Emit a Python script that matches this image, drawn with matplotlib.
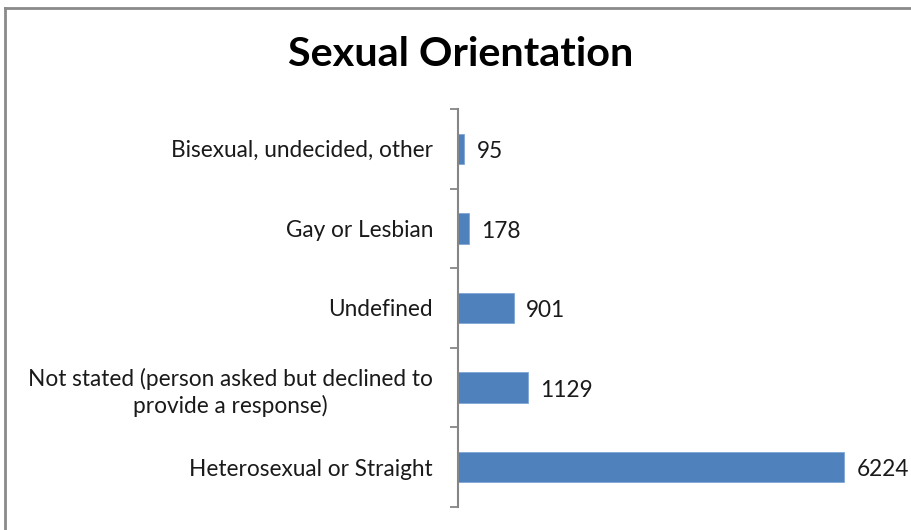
import matplotlib
matplotlib.use("Agg")
import matplotlib.pyplot as plt
from matplotlib.lines import Line2D

categories = ["Heterosexual or Straight",
              "Not stated (person asked but declined to\nprovide a response)",
              "Undefined",
              "Gay or Lesbian",
              "Bisexual, undecided, other"]
values = [6224, 1129, 901, 178, 95]
title = "Sexual Orientation"

FONT = "Lato"
plt.rcParams['font.family'] = [FONT, 'DejaVu Sans']

fig = plt.figure(figsize=(9.12, 5.30), dpi=100)
ax = fig.add_axes([458/912, 1-507/530, (892-458)/912, (507-109)/530])

pos = list(range(len(categories)))
ax.barh(pos, values, height=0.38, color="#4F81BD", edgecolor="#7FA6D6", linewidth=0.6)
ax.set_xlim(0, 7000)
ax.set_ylim(-0.5, len(categories) - 0.5)

ax.set_yticks(pos)
ax.set_yticklabels(categories, fontsize=16.3, color="#1a1a1a", ha="right",
                   multialignment="center", linespacing=1.3)
ax.set_yticks([p - 0.5 for p in pos] + [len(categories) - 0.5], minor=True)
ax.tick_params(axis="y", which="major", length=0, pad=18)
ax.tick_params(axis="y", which="minor", length=5.8, width=1.3, color="#868686")
ax.set_xticks([])
for s in ["top", "right", "bottom"]:
    ax.spines[s].set_visible(False)
ax.spines["left"].set_color("#868686")
ax.spines["left"].set_linewidth(1.5)

for p, v in zip(pos, values):
    ax.annotate(str(v), (v, p), xytext=(9, -2), textcoords="offset points",
                va="center", ha="left", fontsize=16.3, color="#1a1a1a")

fig.text(461/912, 1-55/530, title, ha="center", va="center", fontsize=29.8,
         fontweight="bold", color="black")

# chart border
fig.add_artist(Line2D([5/912, 1.0], [1-8/530, 1-8/530], transform=fig.transFigure, color="#8a8a8a", lw=2))
fig.add_artist(Line2D([5/912, 5/912], [0, 1-8/530], transform=fig.transFigure, color="#8a8a8a", lw=2))

fig.savefig("out.png", dpi=100)
